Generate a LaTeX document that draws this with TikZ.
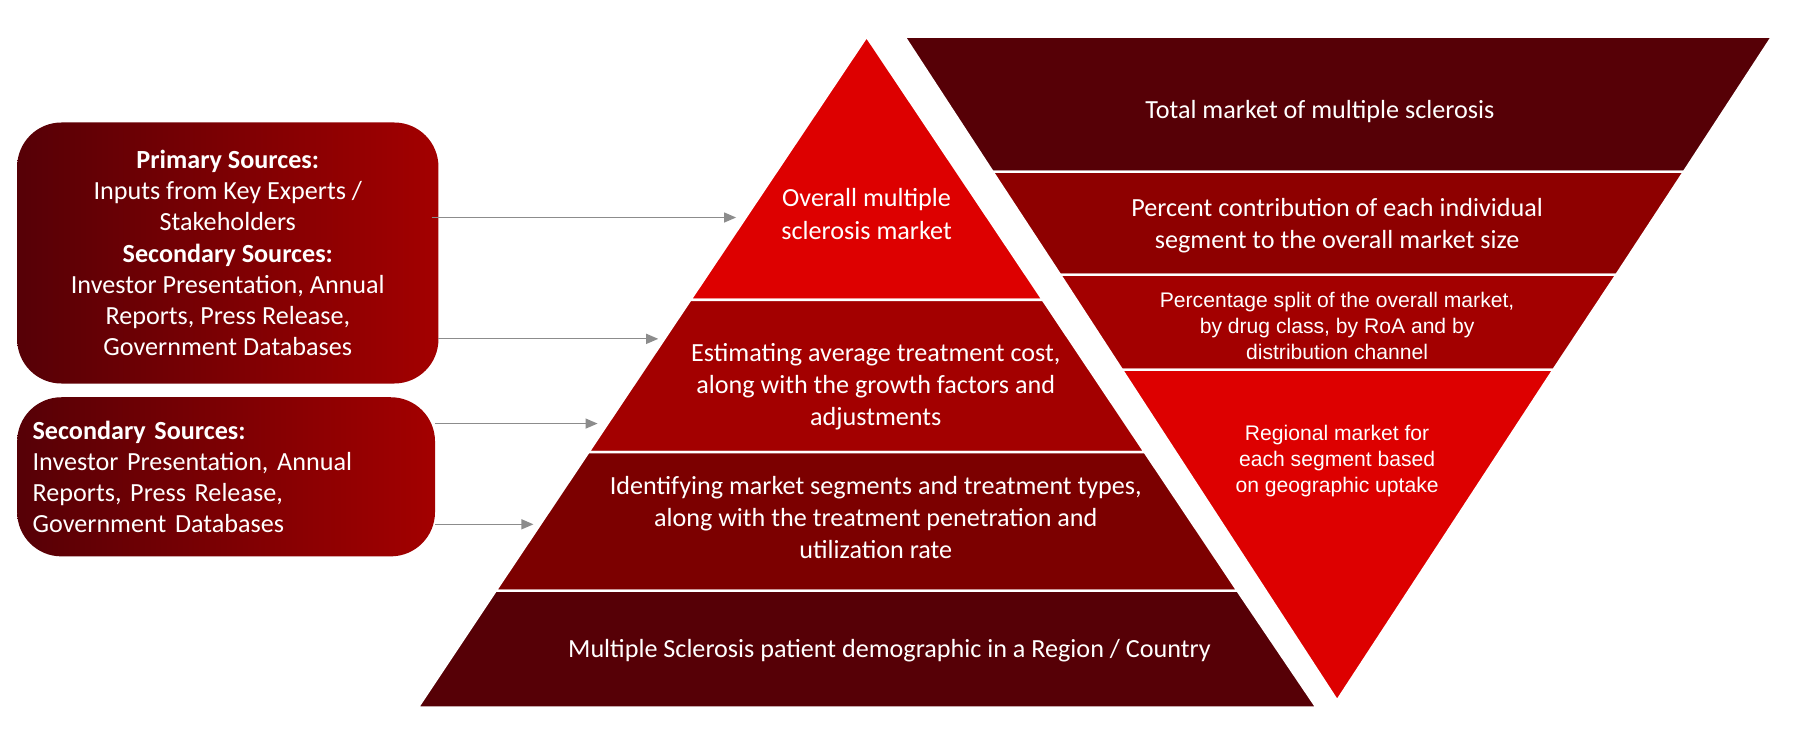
\documentclass[tikz,border=0pt]{standalone}
\usepackage{fontspec}
\setmainfont{Carlito}
\newfontfamily\arialfont{Liberation Sans}
\usetikzlibrary{arrows.meta}
\definecolor{redA}{HTML}{DD0000}
\definecolor{redB}{HTML}{A30000}
\definecolor{redC}{HTML}{7C0000}
\definecolor{redD}{HTML}{560006}
\definecolor{redE}{HTML}{8E0000}
\definecolor{arrowgray}{HTML}{8C8C8C}
\tikzset{
  band/.style={draw=white, line width=1.2pt},
  lbl/.style={text=white, align=center, font=\fontsize{13}{16}\selectfont},
  albl/.style={text=white, align=center, font=\arialfont\fontsize{10.5}{13}\selectfont},
  srcbox/.style={rounded corners=22pt, left color=redD, right color=redB, text=white, font=\fontsize{13}{15.5}\selectfont},
  feed/.style={-{Triangle[length=6pt,width=5pt]}, draw=arrowgray, line width=0.6pt}
}
\begin{document}
\begin{tikzpicture}[x=0.02cm, y=-0.02cm]
  \useasboundingbox (0,0) rectangle (1568,646);
  % pyramid
  \fill[redA, band] (757,32) -- (911,262) -- (603,262) -- cycle;
  \fill[redB, band] (603,262) -- (911,262) -- (1000,395) -- (514,395) -- cycle;
  \fill[redC, band] (514,395) -- (1000,395) -- (1081,516) -- (433,516) -- cycle;
  \fill[redD, band] (433,516) -- (1081,516) -- (1150,618) -- (365,618) -- cycle;
  \node[lbl] (overall) at (757,187) {Overall multiple\\sclerosis market};
  \node[lbl] (cost) at (765,338) {Estimating average treatment cost,\\along with the growth factors and\\adjustments};
  \node[lbl] (segments) at (765,452) {Identifying market segments and treatment types,\\along with the treatment penetration and\\utilization rate};
  \node[lbl] (demog) at (777,568) {Multiple Sclerosis patient demographic in a Region / Country};
  % inverted pyramid
  \fill[redD, band] (790,32) -- (1548,32) -- (1471,150) -- (867,150) -- cycle;
  \fill[redE, band] (867,150) -- (1471,150) -- (1412,240) -- (926,240) -- cycle;
  \fill[redB, band] (926,240) -- (1412,240) -- (1357,323) -- (980,323) -- cycle;
  \fill[redA, band] (980,323) -- (1357,323) -- (1168,612) -- cycle;
  \node[lbl] (total) at (1153,97) {Total market of multiple sclerosis};
  \node[lbl] (percent) at (1168,197) {Percent contribution of each individual\\segment to the overall market size};
  \node[albl] (split) at (1168,285) {Percentage split of the overall market,\\by drug class, by RoA and by\\distribution channel};
  \node[albl] (regional) at (1168,403) {Regional market for\\each segment based\\on geographic uptake};
  % source boxes
  \node[srcbox, minimum width=368*0.02cm, minimum height=228*0.02cm, align=center] (primary) at (199,221)
    {\textbf{Primary Sources:}\\Inputs from Key Experts /\\Stakeholders\\\textbf{Secondary Sources:}\\Investor Presentation, Annual\\Reports, Press Release,\\Government Databases};
  \node[srcbox, minimum width=365*0.02cm, minimum height=139*0.02cm, align=left, text width=338*0.02cm] (secondary) at (197.5,416.5)
    {\textbf{Secondary Sources:}\\Investor Presentation, Annual\\Reports, Press Release,\\Government Databases};
  % arrows
  \coordinate (p1) at (377,190);
  \coordinate (p2) at (383,296);
  \coordinate (s1) at (380,370);
  \coordinate (s2) at (380,458);
  \draw[feed] (p1) -- (643,190);
  \draw[feed] (p2) -- (575,296);
  \draw[feed] (s1) -- (522,370);
  \draw[feed] (s2) -- (466,458);
\end{tikzpicture}
\end{document}
